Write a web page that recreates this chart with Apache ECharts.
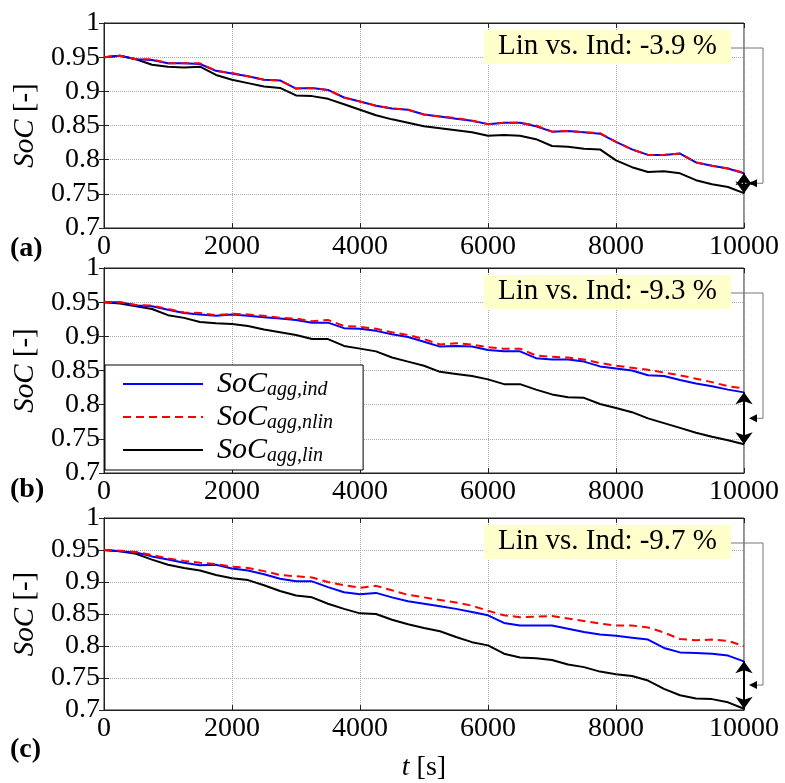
<!DOCTYPE html>
<html>
<head>
<meta charset="utf-8">
<title>SoC aggregation</title>
<script src="https://cdn.jsdelivr.net/npm/echarts@6/dist/echarts.min.js"></script>
<style>
  html, body { margin: 0; padding: 0; background: #fff; }
  #mains { width: 785px; height: 783px; }
</style>
</head>
<body>
<div id="mains"></div>
<script>
// time axis [s]
const timeS = [0, 250, 500, 750, 1000, 1250, 1500, 1750, 2000, 2250, 2500, 2750, 3000, 3250,
  3500, 3750, 4000, 4250, 4500, 4750, 5000, 5250, 5500, 5750, 6000, 6250, 6500, 6750, 7000,
  7250, 7500, 7750, 8000, 8250, 8500, 8750, 9000, 9250, 9500, 9750, 10000];

// (a)
const socIndA = [0.950, 0.952, 0.947, 0.946, 0.941, 0.941, 0.940, 0.930, 0.926, 0.922, 0.917, 0.916,
  0.904, 0.905, 0.902, 0.891, 0.885, 0.879, 0.875, 0.873, 0.866, 0.863, 0.860, 0.857, 0.852, 0.854,
  0.854, 0.849, 0.841, 0.842, 0.840, 0.838, 0.826, 0.815, 0.807, 0.807, 0.809, 0.796, 0.791, 0.787, 0.780];
const socNlinA = [0.950, 0.952, 0.947, 0.947, 0.941, 0.941, 0.941, 0.930, 0.927, 0.922, 0.917, 0.916,
  0.904, 0.905, 0.902, 0.891, 0.885, 0.879, 0.875, 0.873, 0.866, 0.863, 0.861, 0.857, 0.852, 0.854,
  0.854, 0.850, 0.841, 0.842, 0.840, 0.839, 0.826, 0.815, 0.807, 0.807, 0.809, 0.796, 0.791, 0.787, 0.781];
const socLinA = [0.950, 0.952, 0.947, 0.939, 0.936, 0.935, 0.936, 0.924, 0.917, 0.912, 0.907, 0.905,
  0.894, 0.893, 0.889, 0.881, 0.873, 0.865, 0.859, 0.854, 0.849, 0.846, 0.843, 0.840, 0.835, 0.836,
  0.835, 0.830, 0.820, 0.819, 0.816, 0.815, 0.799, 0.789, 0.782, 0.783, 0.780, 0.770, 0.764, 0.760, 0.751];

// (b)
const socIndB = [0.950, 0.950, 0.945, 0.944, 0.939, 0.934, 0.932, 0.930, 0.932, 0.930, 0.928, 0.926,
  0.924, 0.920, 0.920, 0.912, 0.911, 0.908, 0.903, 0.899, 0.892, 0.885, 0.886, 0.885, 0.880, 0.878,
  0.878, 0.868, 0.866, 0.866, 0.863, 0.856, 0.853, 0.850, 0.843, 0.842, 0.836, 0.831, 0.827, 0.822, 0.818];
const socNlinB = [0.950, 0.950, 0.946, 0.945, 0.940, 0.935, 0.934, 0.931, 0.933, 0.932, 0.930, 0.927,
  0.926, 0.922, 0.924, 0.915, 0.914, 0.911, 0.906, 0.902, 0.896, 0.888, 0.890, 0.888, 0.884, 0.882,
  0.882, 0.872, 0.870, 0.869, 0.866, 0.861, 0.857, 0.854, 0.851, 0.847, 0.843, 0.838, 0.833, 0.827, 0.824];
const socLinB = [0.950, 0.948, 0.944, 0.940, 0.931, 0.927, 0.921, 0.919, 0.918, 0.915, 0.910, 0.906,
  0.902, 0.896, 0.896, 0.886, 0.882, 0.878, 0.869, 0.863, 0.857, 0.848, 0.845, 0.842, 0.837, 0.830,
  0.830, 0.822, 0.815, 0.811, 0.810, 0.801, 0.795, 0.789, 0.780, 0.773, 0.766, 0.759, 0.753, 0.748, 0.742];

// (c)
const socIndC = [0.950, 0.948, 0.946, 0.940, 0.935, 0.930, 0.926, 0.927, 0.921, 0.918, 0.912, 0.905,
  0.901, 0.901, 0.892, 0.884, 0.881, 0.883, 0.876, 0.870, 0.866, 0.862, 0.858, 0.853, 0.848, 0.836,
  0.832, 0.832, 0.832, 0.827, 0.822, 0.818, 0.816, 0.813, 0.810, 0.797, 0.790, 0.789, 0.788, 0.785, 0.776];
const socNlinC = [0.950, 0.949, 0.947, 0.942, 0.937, 0.933, 0.930, 0.928, 0.924, 0.922, 0.917, 0.911,
  0.909, 0.907, 0.900, 0.895, 0.891, 0.894, 0.887, 0.880, 0.876, 0.872, 0.868, 0.863, 0.855, 0.848,
  0.845, 0.846, 0.847, 0.843, 0.839, 0.835, 0.832, 0.832, 0.829, 0.821, 0.811, 0.809, 0.810, 0.808, 0.800];
const socLinC = [0.950, 0.948, 0.944, 0.935, 0.927, 0.922, 0.918, 0.911, 0.906, 0.903, 0.895, 0.886,
  0.879, 0.876, 0.866, 0.858, 0.851, 0.850, 0.841, 0.834, 0.828, 0.823, 0.814, 0.806, 0.801, 0.788,
  0.782, 0.781, 0.778, 0.771, 0.767, 0.760, 0.756, 0.753, 0.746, 0.733, 0.723, 0.718, 0.717, 0.712, 0.702];

const panelTags = ['(a)', '(b)', '(c)'];
const diffNotes = ['Lin vs. Ind: -3.9 %', 'Lin vs. Ind: -9.3 %', 'Lin vs. Ind: -9.7 %'];

const FONT = '"Liberation Serif", "Times New Roman", serif';
const panels = [
  { ind: socIndA, nlin: socNlinA, lin: socLinA },
  { ind: socIndB, nlin: socNlinB, lin: socLinB },
  { ind: socIndC, nlin: socNlinC, lin: socLinC }
];
const gridTops = [23, 268, 518];
const tagY = [249, 490, 750];

const chart = echarts.init(document.getElementById('mains'));

const grids = [], xAxes = [], yAxes = [], series = [];
const tick = { inside: true, length: 5, lineStyle: { color: '#222' } };
panels.forEach((p, i) => {
  grids.push({ left: 104, top: gridTops[i], width: 640, height: 205,
    show: true, borderColor: '#222', borderWidth: 1 });
  xAxes.push({
    gridIndex: i, type: 'value', min: 0, max: 10000, interval: 2000,
    axisLine: { show: true, lineStyle: { color: '#222' } },
    axisTick: tick,
    axisLabel: { color: '#000', fontFamily: FONT, fontSize: 28, margin: 5,
      formatter: v => String(v) },
    splitLine: { show: true, lineStyle: { color: '#aaa', type: 'dotted' } },
    name: i === 2 ? '{i|t} [s]' : '',
    nameLocation: 'middle', nameGap: 44,
    nameTextStyle: { color: '#000', fontFamily: FONT, fontSize: 28,
      rich: { i: { fontFamily: FONT, fontSize: 28, fontStyle: 'italic', color: '#000' } } }
  });
  // top box ticks
  xAxes.push({
    gridIndex: i, type: 'value', position: 'top', min: 0, max: 10000, interval: 2000,
    axisLine: { show: true, lineStyle: { color: '#222' } },
    axisTick: tick, axisLabel: { show: false }, splitLine: { show: false }
  });
  yAxes.push({
    gridIndex: i, type: 'value', min: 0.7, max: 1, interval: 0.05,
    axisLine: { show: true, lineStyle: { color: '#222' } },
    axisTick: tick,
    axisLabel: { color: '#000', fontFamily: FONT, fontSize: 28, margin: 4,
      formatter: v => String(+v.toFixed(2)) },
    splitLine: { show: true, lineStyle: { color: '#aaa', type: 'dotted' } },
    name: '{i|SoC} [-]', nameLocation: 'middle', nameGap: 64, nameRotate: 90,
    nameTextStyle: { color: '#000', fontFamily: FONT, fontSize: 29,
      rich: { i: { fontFamily: FONT, fontSize: 29, fontStyle: 'italic', color: '#000' } } }
  });
  // right box ticks
  yAxes.push({
    gridIndex: i, type: 'value', position: 'right', min: 0.7, max: 1, interval: 0.05,
    axisLine: { show: true, lineStyle: { color: '#222' } },
    axisTick: tick, axisLabel: { show: false }, splitLine: { show: false }
  });
  const mk = (name, vals, color, type) => ({
    name: name, type: 'line', xAxisIndex: 2 * i, yAxisIndex: 2 * i,
    data: timeS.map((t, k) => [t, vals[k]]),
    symbol: 'none', showSymbol: false,
    lineStyle: { color: color, width: 2, type: type },
    itemStyle: { color: color }
  });
  const last = timeS.length - 1;
  const lin = mk('lin', p.lin, '#000000', 'solid');
  // double arrow between Ind and Lin end values
  lin.markLine = {
    silent: true, animation: false,
    symbol: ['arrow', 'arrow'], symbolSize: [13, 12],
    label: { show: false },
    lineStyle: { color: '#000', width: 2, type: 'solid' },
    data: [[{ coord: [timeS[last], p.ind[last]] }, { coord: [timeS[last], p.lin[last]] }]]
  };
  series.push(lin);
  series.push(mk('ind', p.ind, '#0000ff', 'solid'));
  series.push(mk('nlin', p.nlin, '#ff0000', [8, 5]));
});

chart.setOption({
  animation: false,
  backgroundColor: '#fff',
  grid: grids,
  xAxis: xAxes,
  yAxis: yAxes,
  legend: {
    data: ['ind', 'nlin', 'lin'],
    orient: 'vertical', left: 105, top: 365,
    itemWidth: 80, itemHeight: 14, itemGap: 2,
    padding: [4, 30, 4, 17],
    backgroundColor: '#fff', borderColor: '#000', borderWidth: 1, borderRadius: 0,
    selectedMode: false,
    itemStyle: { opacity: 0 },
    formatter: n => '{a|SoC}{b|agg,' + n + '}',
    textStyle: {
      rich: {
        a: { fontFamily: FONT, fontSize: 30, fontStyle: 'italic', color: '#000', padding: [0, 0, 0, 9] },
        b: { fontFamily: FONT, fontSize: 20, fontStyle: 'italic', color: '#000', padding: [12, 0, 0, 0] }
      }
    }
  },
  series: series
});

// annotation boxes, connectors and panel tags
const graphics = [];
panels.forEach((p, i) => {
  const last = timeS.length - 1;
  const mid = (p.ind[last] + p.lin[last]) / 2;
  const pt = chart.convertToPixel({ gridIndex: i }, [timeS[last], mid]);
  const boxTop = gridTops[i] + 7;
  const boxMid = boxTop + 18;
  graphics.push({
    type: 'text', right: 785 - 731, top: boxTop, z: 10,
    style: { text: diffNotes[i], font: '29px ' + FONT, fill: '#000',
      backgroundColor: '#ffffcc', padding: [2, 14, 3, 14] }
  });
  graphics.push({
    type: 'polyline', z: 10,
    shape: { points: [[731, boxMid], [763, boxMid], [763, pt[1]], [756, pt[1]]] },
    style: { stroke: '#777', lineWidth: 1, fill: null }
  });
  graphics.push({
    type: 'polygon', z: 10,
    shape: { points: [[pt[0] + 5, pt[1]], [pt[0] + 13, pt[1] - 4], [pt[0] + 13, pt[1] + 4]] },
    style: { fill: '#000' }
  });
  graphics.push({
    type: 'text', left: 10, top: tagY[i] - 14, z: 10,
    style: { text: panelTags[i], font: 'bold 28px ' + FONT, fill: '#000' }
  });
});
chart.setOption({ graphic: graphics });
</script>
</body>
</html>
